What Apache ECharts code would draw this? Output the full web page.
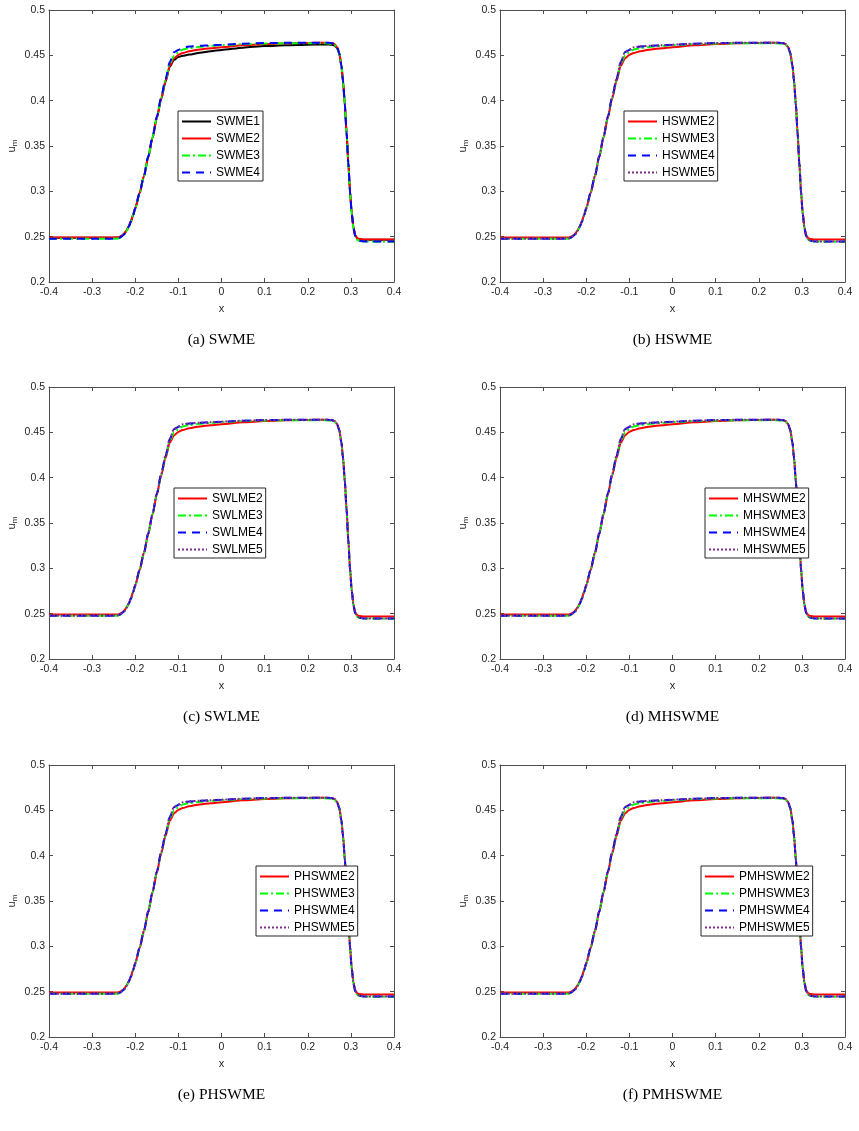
<!DOCTYPE html>
<html>
<head>
<meta charset="utf-8">
<script src="https://cdn.jsdelivr.net/npm/echarts@6/dist/echarts.min.js"></script>
<style>
html, body { margin: 0; padding: 0; background: #fff; }
#main { width: 859px; height: 1131px; }
</style>
</head>
<body>
<div id="main"></div>
<script>
// x positions of the sampled points
var xs = [-0.4, -0.3, -0.25, -0.24, -0.235, -0.23, -0.225, -0.22, -0.215, -0.21, -0.205, -0.2,
	-0.19, -0.18, -0.17, -0.16, -0.15, -0.14, -0.13, -0.12, -0.11, -0.1, -0.09, -0.075,
	-0.05, -0.025, 0, 0.05, 0.1, 0.15, 0.2, 0.24, 0.255, 0.262, 0.268, 0.273, 0.278,
	0.282, 0.286, 0.29, 0.294, 0.298, 0.302, 0.306, 0.31, 0.315, 0.32, 0.33, 0.4];

// u_m for model order 1..5
var u1 = [0.2489, 0.2489, 0.2489, 0.2491, 0.2499, 0.2514, 0.2536, 0.2569, 0.2614, 0.2669, 0.2739, 0.2814,
	0.2979, 0.3164, 0.3374, 0.3589, 0.3808, 0.4015, 0.4205, 0.4375, 0.4450, 0.4482, 0.4495, 0.4508,
	0.4528, 0.4545, 0.4560, 0.4585, 0.4602, 0.4612, 0.4618, 0.4620, 0.4618, 0.4610, 0.4580, 0.4518, 0.4385,
	0.4205, 0.3958, 0.3650, 0.3320, 0.3000, 0.2760, 0.2600, 0.2515, 0.2480, 0.2470, 0.2466, 0.2465];
var u2 = [0.2490, 0.2490, 0.2490, 0.2492, 0.2500, 0.2515, 0.2537, 0.2570, 0.2615, 0.2670, 0.2740, 0.2815,
	0.2980, 0.3165, 0.3375, 0.3590, 0.3810, 0.4020, 0.4212, 0.4385, 0.4465, 0.4505, 0.4525, 0.4545,
	0.4565, 0.4578, 0.4590, 0.4610, 0.4625, 0.4633, 0.4637, 0.4638, 0.4635, 0.4625, 0.4592, 0.4527, 0.4392,
	0.4212, 0.3962, 0.3652, 0.3322, 0.3002, 0.2762, 0.2602, 0.2517, 0.2483, 0.2474, 0.2470, 0.2468];
var u3 = [0.2476, 0.2476, 0.2476, 0.2479, 0.2488, 0.2505, 0.2528, 0.2562, 0.2608, 0.2664, 0.2735, 0.2812,
	0.2980, 0.3168, 0.3380, 0.3596, 0.3818, 0.4030, 0.4225, 0.4410, 0.4495, 0.4535, 0.4565, 0.4580,
	0.4595, 0.4605, 0.4612, 0.4624, 0.4630, 0.4632, 0.4632, 0.4632, 0.4628, 0.4618, 0.4586, 0.4522, 0.4388,
	0.4205, 0.3955, 0.3645, 0.3312, 0.2990, 0.2748, 0.2588, 0.2503, 0.2465, 0.2452, 0.2446, 0.2443];
var u4 = [0.2478, 0.2478, 0.2478, 0.2481, 0.2490, 0.2507, 0.2530, 0.2564, 0.2610, 0.2666, 0.2737, 0.2814,
	0.2982, 0.3170, 0.3383, 0.3600, 0.3823, 0.4036, 0.4235, 0.4425, 0.4535, 0.4560, 0.4585, 0.4598,
	0.4605, 0.4610, 0.4617, 0.4628, 0.4635, 0.4638, 0.4640, 0.4640, 0.4636, 0.4626, 0.4592, 0.4527, 0.4392,
	0.4208, 0.3958, 0.3648, 0.3315, 0.2993, 0.2751, 0.2591, 0.2506, 0.2467, 0.2454, 0.2448, 0.2446];
var u5 = [0.2478, 0.2478, 0.2478, 0.2481, 0.2490, 0.2507, 0.2530, 0.2564, 0.2610, 0.2666, 0.2737, 0.2814,
	0.2982, 0.3171, 0.3384, 0.3601, 0.3825, 0.4038, 0.4238, 0.4430, 0.4540, 0.4565, 0.4588, 0.4600,
	0.4606, 0.4611, 0.4618, 0.4628, 0.4635, 0.4638, 0.4640, 0.4640, 0.4636, 0.4626, 0.4592, 0.4527, 0.4392,
	0.4208, 0.3958, 0.3648, 0.3315, 0.2993, 0.2751, 0.2591, 0.2506, 0.2467, 0.2454, 0.2448, 0.2446];

var xTicks = [-0.4, -0.3, -0.2, -0.1, 0, 0.1, 0.2, 0.3, 0.4];
var yTicks = [0.2, 0.25, 0.3, 0.35, 0.4, 0.45, 0.5];

var captions = ['(a) SWME', '(b) HSWME', '(c) SWLME', '(d) MHSWME', '(e) PHSWME', '(f) PMHSWME'];
var prefixes = ['SWME', 'HSWME', 'SWLME', 'MHSWME', 'PHSWME', 'PMHSWME'];
var orders = [[1, 2, 3, 4], [2, 3, 4, 5], [2, 3, 4, 5], [2, 3, 4, 5], [2, 3, 4, 5], [2, 3, 4, 5]];

var U = {1: u1, 2: u2, 3: u3, 4: u4, 5: u5};
var styles = {
	1: {color: '#000000', type: 'solid'},
	2: {color: '#ff0000', type: 'solid'},
	3: {color: '#00ff00', type: [8, 3, 2, 3]},
	4: {color: '#0000ff', type: [8, 6]},
	5: {color: '#7e2f8e', type: [2, 2]}
};

// layout
var colLeft = [49, 500];
var rowTop = [10, 387, 765];
var gridW = 345, gridH = 272;
var legendPos = [[178, 111], [624, 111], [174, 488], [705, 488], [256, 866], [701, 866]];
var captionY = [340, 717, 1095];

var axisColor = '#4d4d4d';
var labelFont = {fontSize: 10.5, color: '#262626', fontFamily: 'Liberation Sans'};

var grids = [], xAxes = [], yAxes = [], legends = [], series = [], graphics = [];

for (var p = 0; p < 6; p++) {
	var col = p % 2, row = Math.floor(p / 2);
	grids.push({left: colLeft[col], top: rowTop[row], width: gridW, height: gridH, outerBoundsMode: 'none'});

	var baseX = {
		gridIndex: p, type: 'value', min: xTicks[0], max: xTicks[xTicks.length - 1], interval: 0.1,
		axisLine: {show: true, onZero: false, lineStyle: {color: axisColor, width: 1}},
		axisTick: {show: true, inside: true, length: 4, lineStyle: {color: axisColor}},
		splitLine: {show: false}
	};
	xAxes.push(Object.assign({}, baseX, {
		position: 'bottom',
		axisLabel: Object.assign({margin: 5}, labelFont),
		name: 'x', nameLocation: 'middle', nameGap: 21,
		nameTextStyle: {fontSize: 11, color: '#262626', fontFamily: 'Liberation Sans'}
	}));
	xAxes.push(Object.assign({}, baseX, {position: 'top', axisLabel: {show: false}}));

	var baseY = {
		gridIndex: p, type: 'value', min: yTicks[0], max: yTicks[yTicks.length - 1], interval: 0.05,
		axisLine: {show: true, onZero: false, lineStyle: {color: axisColor, width: 1}},
		axisTick: {show: true, inside: true, length: 4, lineStyle: {color: axisColor}},
		splitLine: {show: false}
	};
	yAxes.push(Object.assign({}, baseY, {
		position: 'left',
		axisLabel: Object.assign({margin: 4}, labelFont),
		name: '{u|u}{m|m}', nameLocation: 'middle', nameGap: 30, nameRotate: 90,
		nameTextStyle: {
			color: '#262626', fontFamily: 'Liberation Sans',
			rich: {
				u: {fontSize: 11, color: '#262626', fontFamily: 'Liberation Sans'},
				m: {fontSize: 8, color: '#262626', fontFamily: 'Liberation Sans', padding: [6, 0, 0, 0]}
			}
		}
	}));
	yAxes.push(Object.assign({}, baseY, {position: 'right', axisLabel: {show: false}}));

	var names = [];
	orders[p].forEach(function (k) {
		var nm = prefixes[p] + k;
		names.push(nm);
		var st = styles[k];
		series.push({
			name: nm, type: 'line', xAxisIndex: 2 * p, yAxisIndex: 2 * p,
			data: xs.map(function (x, i) { return [x, U[k][i]]; }),
			symbol: 'none', showSymbol: false,
			smooth: 0.25, smoothMonotone: 'x',
			lineStyle: {color: st.color, width: 2, type: st.type},
			itemStyle: {color: st.color},
			z: 2
		});
	});

	// legend icon: line only, hide the marker; legend sits above the curves
	legends.push({
		data: names, orient: 'vertical', left: legendPos[p][0], top: legendPos[p][1],
		itemWidth: 29, itemHeight: 11, itemGap: 4, padding: [4, 3, 2, 3],
		borderColor: '#262626', borderWidth: 1, backgroundColor: '#ffffff',
		selectedMode: false, z: 10,
		itemStyle: {opacity: 0},
		textStyle: {fontSize: 12, lineHeight: 13, color: '#000', fontFamily: 'Liberation Sans'}
	});

	graphics.push({
		type: 'text', x: colLeft[col] + gridW / 2, y: captionY[row],
		style: {
			text: captions[p], align: 'center', verticalAlign: 'middle',
			fontSize: 15.5, fontFamily: 'Liberation Serif', fill: '#000'
		}
	});
}

var chart = echarts.init(document.getElementById('main'));
chart.setOption({
	animation: false,
	backgroundColor: '#ffffff',
	grid: grids,
	xAxis: xAxes,
	yAxis: yAxes,
	legend: legends,
	series: series,
	graphic: graphics
});
</script>
</body>
</html>
